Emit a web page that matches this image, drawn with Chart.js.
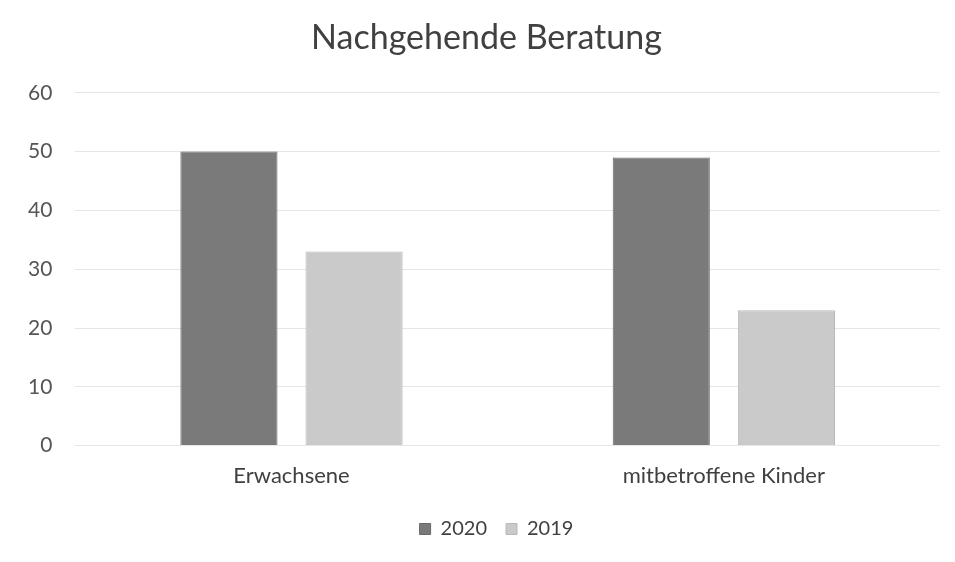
<!DOCTYPE html>
<html>
<head>
<meta charset="utf-8">
<script src="https://cdn.jsdelivr.net/npm/chart.js@4/dist/chart.umd.min.js"></script>
<style>
  html, body { margin: 0; padding: 0; background: #ffffff; }
  #wrap { width: 955px; height: 562px; }
</style>
</head>
<body>
<div id="wrap"><canvas id="c" width="955" height="562"></canvas></div>
<script>
// Nachgehende Beratung – Fälle nach Gruppe, 2020 und 2019
const categories = ['Erwachsene', 'mitbetroffene Kinder'];
const seriesNames = ['2020', '2019'];
const values2020 = [50, 49];
const values2019 = [33, 23];
const yTicks = [0, 10, 20, 30, 40, 50, 60];

const FONT = 'Lato, "Open Sans", sans-serif';

// Nudge title and legend so they sit centred over the plot rather than the canvas
const centreOnPlot = {
  id: 'centreOnPlot',
  afterLayout(chart) {
    const shift = (box, dx) => { if (box) { box.left += dx; box.right += dx; } };
    shift(chart.titleBlock, 14);
    shift(chart.legend, 24);
  }
};

new Chart(document.getElementById('c'), {
  type: 'bar',
  data: {
    labels: categories,
    datasets: [
      { label: seriesNames[0], data: values2020, backgroundColor: '#7a7a7a', borderColor: '#686868', borderWidth: 1 },
      { label: seriesNames[1], data: values2019, backgroundColor: '#cacaca', borderColor: '#b9b9b9', borderWidth: 1 }
    ]
  },
  plugins: [centreOnPlot],
  options: {
    responsive: false,
    animation: false,
    devicePixelRatio: 1,
    layout: { padding: { left: 5, right: 15, top: 4, bottom: 13 } },
    datasets: { bar: { categoryPercentage: 0.579, barPercentage: 0.776 } },
    scales: {
      x: {
        grid: { display: false, drawTicks: false },
        border: { display: false },
        ticks: { color: '#404040', font: { family: FONT, size: 22 }, padding: 17 },
        // tighten the space between the category labels and the legend
        afterFit: (axis) => { axis.height -= 6; }
      },
      y: {
        min: yTicks[0],
        max: yTicks[yTicks.length - 1],
        afterBuildTicks: (axis) => { axis.ticks = yTicks.map(v => ({ value: v })); },
        grid: { color: '#e6e6e6', lineWidth: 1, drawTicks: false },
        border: { display: false },
        ticks: { color: '#555555', font: { family: FONT, size: 21 }, padding: 23 }
      }
    },
    plugins: {
      title: {
        display: true,
        text: 'Nachgehende Beratung',
        color: '#404040',
        font: { family: FONT, size: 34, weight: 'normal' },
        padding: { top: 14, bottom: 34 }
      },
      legend: {
        position: 'bottom',
        labels: {
          color: '#404040',
          font: { family: FONT, size: 20 },
          boxWidth: 11,
          boxHeight: 11,
          padding: 19
        }
      },
      tooltip: { enabled: false }
    }
  }
});
</script>
</body>
</html>
